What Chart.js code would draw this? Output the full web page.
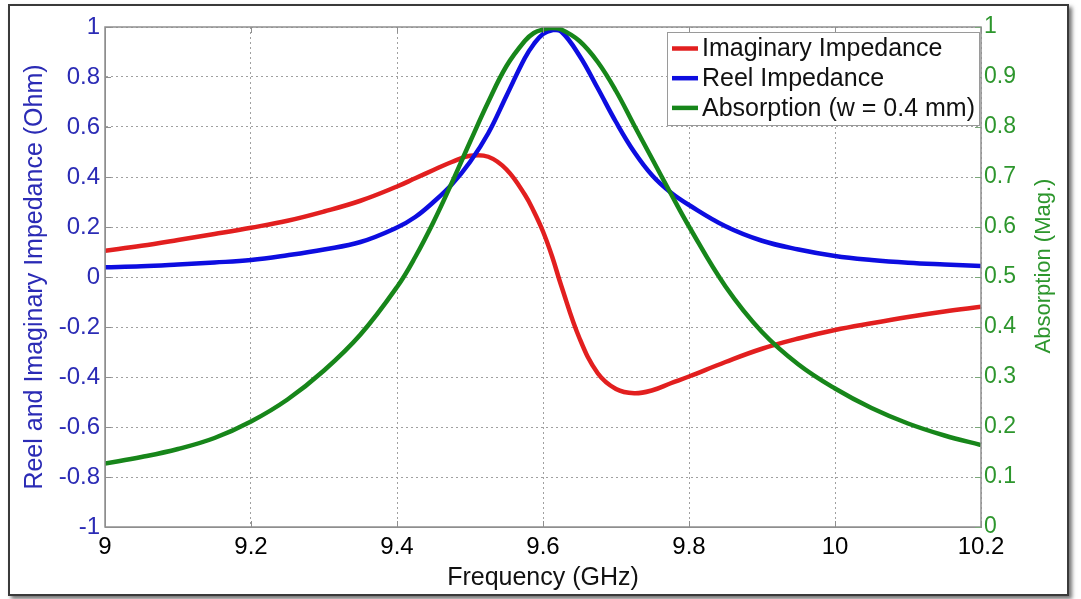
<!DOCTYPE html>
<html><head><meta charset="utf-8">
<script src="https://cdn.jsdelivr.net/npm/chart.js@4"></script>
<style>
html,body{margin:0;padding:0;background:#fff;}
#wrap{position:relative;width:1081px;height:599px;overflow:hidden;background:#fff;}
#frame{position:absolute;left:8px;top:4px;width:1057px;height:588px;border:2px solid #3a3a3a;box-shadow:3px 3px 4px rgba(0,0,0,0.55);background:#fff;}
canvas{position:absolute;left:0;top:0;}
</style></head>
<body><div id="wrap"><div id="frame"></div><canvas id="c" width="1081" height="599"></canvas></div>
<script>
const freq       = [9.0, 9.05, 9.1, 9.15, 9.2, 9.25, 9.3, 9.35, 9.4, 9.425, 9.45, 9.475, 9.5, 9.525, 9.55, 9.575, 9.5875, 9.6, 9.6125, 9.625, 9.65, 9.675, 9.7, 9.725, 9.75, 9.775, 9.8, 9.85, 9.9, 9.95, 10.0, 10.05, 10.1, 10.15, 10.2];
const imagImp    = [0.105, 0.125, 0.148, 0.172, 0.197, 0.225, 0.262, 0.305, 0.362, 0.395, 0.428, 0.460, 0.485, 0.481, 0.430, 0.330, 0.262, 0.182, 0.082, -0.035, -0.245, -0.385, -0.448, -0.465, -0.453, -0.425, -0.398, -0.340, -0.287, -0.246, -0.212, -0.185, -0.160, -0.138, -0.119];
const realImp    = [0.039, 0.043, 0.050, 0.058, 0.068, 0.087, 0.110, 0.140, 0.198, 0.240, 0.300, 0.370, 0.460, 0.575, 0.725, 0.875, 0.932, 0.972, 0.987, 0.982, 0.885, 0.755, 0.620, 0.500, 0.405, 0.338, 0.288, 0.203, 0.145, 0.110, 0.084, 0.068, 0.057, 0.050, 0.044];
const absorption = [0.127, 0.140, 0.156, 0.178, 0.211, 0.255, 0.313, 0.385, 0.480, 0.540, 0.610, 0.688, 0.770, 0.850, 0.922, 0.972, 0.988, 0.995, 0.998, 0.995, 0.972, 0.930, 0.872, 0.803, 0.735, 0.667, 0.601, 0.481, 0.390, 0.325, 0.277, 0.238, 0.207, 0.183, 0.164];

const xTicks = [9, 9.2, 9.4, 9.6, 9.8, 10, 10.2];
const xTickLabels = ['9', '9.2', '9.4', '9.6', '9.8', '10', '10.2'];
const leftTicks = [-1, -0.8, -0.6, -0.4, -0.2, 0, 0.2, 0.4, 0.6, 0.8, 1];
const leftTickLabels = ['-1', '-0.8', '-0.6', '-0.4', '-0.2', '0', '0.2', '0.4', '0.6', '0.8', '1'];
const rightTicks = [0, 0.1, 0.2, 0.3, 0.4, 0.5, 0.6, 0.7, 0.8, 0.9, 1];
const rightTickLabels = ['0', '0.1', '0.2', '0.3', '0.4', '0.5', '0.6', '0.7', '0.8', '0.9', '1'];

const FONT = '"Liberation Sans", Arial, Helvetica, sans-serif';
Chart.defaults.font.family = FONT;

const RED = '#e21f1f', BLUE = '#0d0de0', GREEN = '#17861a';
const TICKBLUE = '#2b2bb5', TICKGREEN = '#2d962d';

const pts = arr => freq.map((f, i) => ({x: f, y: arr[i]}));

const decor = {
  id: 'decor',
  afterDraw(chart) {
    const {ctx, chartArea: a, scales} = chart;
    ctx.save();
    ctx.setLineDash([]);
    ctx.strokeStyle = '#8f8f8f';
    ctx.lineWidth = 1.5;
    ctx.strokeRect(a.left, a.top, a.right - a.left, a.bottom - a.top);
    const tl = 6;
    ctx.lineWidth = 1;
    ctx.beginPath();
    xTicks.forEach(v => {
      const x = Math.round(scales.x.getPixelForValue(v)) + 0.5;
      ctx.moveTo(x, a.bottom); ctx.lineTo(x, a.bottom - tl);
      ctx.moveTo(x, a.top); ctx.lineTo(x, a.top + tl);
    });
    leftTicks.forEach(v => {
      const y = Math.round(scales.y.getPixelForValue(v)) + 0.5;
      ctx.moveTo(a.left, y); ctx.lineTo(a.left + tl, y);
    });
    ctx.stroke();
    ctx.strokeStyle = '#7aa87a';
    ctx.beginPath();
    rightTicks.forEach(v => {
      const y = Math.round(scales.y2.getPixelForValue(v)) + 0.5;
      ctx.moveTo(a.right, y); ctx.lineTo(a.right - tl, y);
    });
    ctx.stroke();
    ctx.save();
    ctx.translate(1044, 266);
    ctx.rotate(-Math.PI / 2);
    ctx.fillStyle = TICKGREEN;
    ctx.font = '22px ' + FONT;
    ctx.textAlign = 'center';
    ctx.textBaseline = 'middle';
    ctx.fillText('Absorption (Mag.)', 0, 0);
    ctx.restore();
    const lw = 312, lh = 93;
    const lx = a.right - lw - 2, ly = a.top + 5;
    ctx.fillStyle = '#fff';
    ctx.fillRect(lx, ly, lw, lh);
    ctx.strokeStyle = '#9a9a9a';
    ctx.lineWidth = 1;
    ctx.strokeRect(lx + 0.5, ly + 0.5, lw, lh);
    ctx.font = '25px ' + FONT;
    ctx.textAlign = 'left';
    ctx.textBaseline = 'middle';
    [0, 1, 2].forEach((di, k) => {
      const ds = chart.data.datasets[di];
      const yy = ly + 16.5 + k * 29.7;
      ctx.strokeStyle = ds.borderColor;
      ctx.lineWidth = 4.5;
      ctx.beginPath();
      ctx.moveTo(lx + 5, yy); ctx.lineTo(lx + 31, yy);
      ctx.stroke();
      ctx.fillStyle = '#111';
      ctx.fillText(ds.label, lx + 35, yy + 1);
    });
    ctx.restore();
  }
};

new Chart(document.getElementById('c'), {
  type: 'line',
  data: {
    datasets: [
      {label: 'Imaginary Impedance', data: pts(imagImp), yAxisID: 'y', borderColor: RED, order: 2},
      {label: 'Reel Impedance', data: pts(realImp), yAxisID: 'y', borderColor: BLUE, order: 1},
      {label: 'Absorption (w = 0.4 mm)', data: pts(absorption), yAxisID: 'y2', borderColor: GREEN, order: 0}
    ]
  },
  options: {
    responsive: false,
    animation: false,
    devicePixelRatio: 1,
    layout: {padding: {top: 27, left: 0, right: 0, bottom: 0}},
    elements: {
      point: {radius: 0},
      line: {borderWidth: 4.5, tension: 0.4, cubicInterpolationMode: 'default', fill: false}
    },
    plugins: {legend: {display: false}, tooltip: {enabled: false}},
    scales: {
      x: {
        type: 'linear', position: 'bottom', min: 9, max: 10.2,
        afterBuildTicks: s => { s.ticks = xTicks.map(v => ({value: v})); },
        afterFit: s => { s.height = 72; },
        grid: {color: '#a0a0a0', lineWidth: 1, drawTicks: false},
        border: {display: true, color: '#8f8f8f', dash: [2, 3]},
        ticks: {autoSkip: false, maxRotation: 0, padding: 6, color: '#000', font: {size: 24},
                callback: (v, i) => xTickLabels[i]},
        title: {display: true, text: 'Frequency (GHz)', color: '#111', font: {size: 25}, padding: {top: 0, bottom: 6}}
      },
      y: {
        type: 'linear', position: 'left', min: -1, max: 1,
        afterBuildTicks: s => { s.ticks = leftTicks.map(v => ({value: v})); },
        afterFit: s => { s.width = 105; },
        grid: {color: '#a0a0a0', lineWidth: 1, drawTicks: false},
        border: {display: true, color: '#8f8f8f', dash: [2, 3]},
        ticks: {autoSkip: false, padding: 5, color: TICKBLUE, font: {size: 24},
                callback: (v, i) => leftTickLabels[i]},
        title: {display: true, text: 'Reel and Imaginary Impedance (Ohm)', color: TICKBLUE, font: {size: 25}, padding: {top: 20, bottom: 0}}
      },
      y2: {
        type: 'linear', position: 'right', min: 0, max: 1,
        afterBuildTicks: s => { s.ticks = rightTicks.map(v => ({value: v})); },
        afterFit: s => { s.width = 100; },
        grid: {display: false, drawTicks: false},
        border: {display: false},
        ticks: {autoSkip: false, padding: 3, color: TICKGREEN, font: {size: 23},
                callback: (v, i) => rightTickLabels[i]},
        title: {display: false}
      }
    }
  },
  plugins: [decor]
});
</script>
</body></html>
